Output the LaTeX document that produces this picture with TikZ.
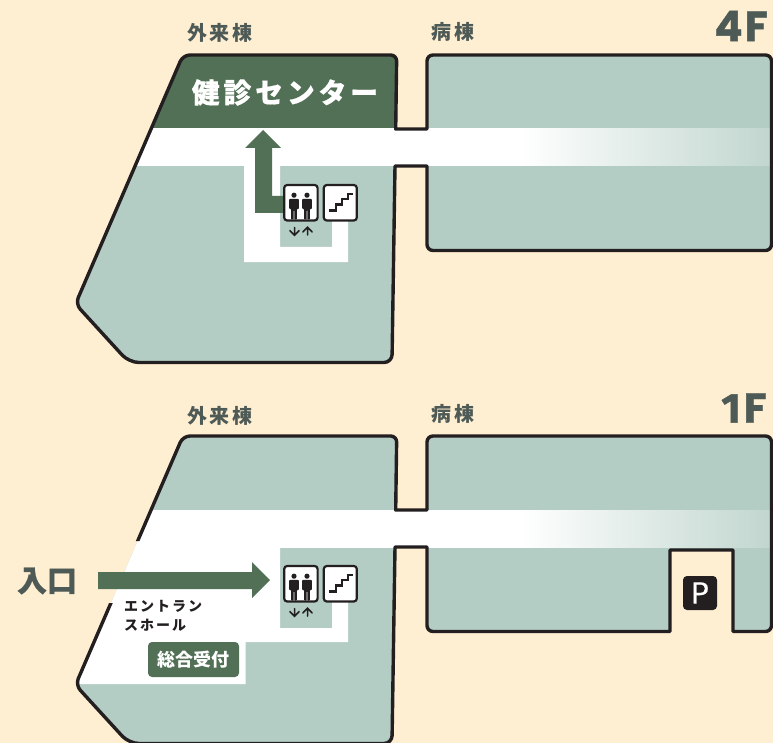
\documentclass[tikz,border=0pt]{standalone}
\usepackage{fontspec}
\setmainfont{Noto Sans CJK JP}
\newfontfamily\jp{Noto Sans CJK JP}
\newfontfamily\jpwide[LetterSpace=14]{Noto Sans CJK JP}
\newfontfamily\jpward[LetterSpace=14]{Noto Sans CJK JP}
\newfontfamily\jpbold[FakeBold=0.6]{Noto Sans CJK JP}
\newfontfamily\jpboldwide[LetterSpace=14,FakeBold=0.6]{Noto Sans CJK JP}
\newfontfamily\latinbig[LetterSpace=5,FakeBold=0.8]{Poppins}
\newfontfamily\latinone[FakeBold=1.2]{Fira Sans}
\definecolor{cream}{HTML}{FFEFD2}
\definecolor{roomc}{HTML}{B3CCC4}
\definecolor{fadeend}{HTML}{C1D6CF}
\definecolor{darkg}{HTML}{527056}
\definecolor{inkc}{HTML}{231F20}
\definecolor{labelc}{HTML}{4E5A56}
\pgfdeclarehorizontalshading{band}{100bp}{color(0bp)=(white);color(56.3bp)=(white);color(75bp)=(fadeend);color(100bp)=(fadeend)}
\tikzset{
  wing/.style={line width=3.4pt,draw=inkc,line join=round},
  iconbox/.style={draw=inkc,line width=2.2pt,fill=white,rounded corners=3pt},
  wardlabel/.style={text=labelc,font=\jpward\bfseries\fontsize{20}{20}\selectfont,inner sep=0pt},
  floorlabel/.style={text=labelc,font=\latinbig\bfseries\fontsize{42}{42}\selectfont,inner sep=0pt},
  updown/.style={draw=inkc,line width=1.5pt,line cap=round},
}
% outline of both wings, from the bridge, clockwise
\newcommand\fourpath{(395.7,129) -- (427,129) [rounded corners=6pt] -- (427,55) -- (771.5,55) -- (771.5,250.5) -- (427,250.5) [sharp corners] -- (427,166) -- (395,166) [rounded corners=8pt] -- (392,362.5) [rounded corners=10pt] -- (129,362.5) [rounded corners=7pt] -- (75.5,304) -- (183,55) [rounded corners=6pt] -- (396.7,55) [sharp corners] -- cycle}
\newcommand\onepath{(395.7,129) -- (427,129) [rounded corners=6pt] -- (427,55) -- (771.5,55) -- (771.5,250.5) [sharp corners] -- (733,250.5) -- (733,169) -- (670,169) -- (670,250.5) [rounded corners=6pt] -- (427,250.5) [sharp corners] -- (427,166) -- (395,166) [rounded corners=8pt] -- (392,362.5) [rounded corners=10pt] -- (129,362.5) [rounded corners=7pt] -- (75.5,304) -- (183,55) [rounded corners=6pt] -- (396.7,55) [sharp corners] -- cycle}
\newcommand\person[1]{%
  \fill[inkc] (#1,195.2) circle (2.6pt);
  \fill[inkc,rounded corners=.8pt] (#1-4.8,198.8) -- (#1+4.8,198.8) -- (#1+4.8,209) -- (#1+2.9,209) -- (#1+2.9,219.5) -- (#1+.3,219.5) -- (#1+.3,210) -- (#1-.3,210) -- (#1-.3,219.5) -- (#1-2.9,219.5) -- (#1-2.9,209) -- (#1-4.8,209) -- cycle;
}
\newcommand\icons{%
  \draw[iconbox] (284.2,185) rectangle (317.6,220.5);
  \draw[iconbox] (323.8,185) rectangle (356.8,220.5);
  \person{294}
  \person{307}
  \draw[inkc,line width=2.5pt,line join=miter] (329,210.5) -- (336,210.5) -- (336,204.5) -- (342,204.5) -- (342,199) -- (348,199) -- (348,194) -- (353,194);
  \draw[updown] (294.5,227.5) -- (294.5,235) (289.8,230.5) -- (294.5,235.2) -- (299.2,230.5);
  \draw[updown] (307.5,235) -- (307.5,227.5) (302.8,232) -- (307.5,227.3) -- (312.2,232);
}
\begin{document}
\begin{tikzpicture}[x=1pt,y=-1pt]
\useasboundingbox (0,0) rectangle (773,743);
\fill[cream] (0,0) rectangle (773,743);

% ---------- 4F ----------
\begin{scope}
  \fill[roomc] \fourpath;
  \begin{scope}
    \clip \fourpath;
    \fill[darkg] (100,50) rectangle (396.7,129);
    \shade[shading=band] (100,129) rectangle (771.5,166);
    \fill[white] (244,165) -- (280,165) -- (280,247) -- (332,247) -- (332,220) -- (348,220) -- (348,262) -- (244,262) -- cycle;
  \end{scope}
  \draw[wing] \fourpath;
  \fill[darkg] (263,130) -- (281,148) -- (272,148) -- (272,196) -- (286,196) -- (286,213) -- (255,213) -- (255,148) -- (245,148) -- cycle;
  \icons
\end{scope}

\node[wardlabel] (out4) at (220,33) {外来棟};
\node[wardlabel] (ward4) at (453,32) {病棟};
\node[floorlabel] (f4) at (741,26) {4F};
\node[text=white,font=\jpboldwide\bfseries\fontsize{27.8}{27.8}\selectfont,inner sep=0pt] (kenshin) at (285,92.5) {健診センター};

% ---------- 1F ----------
\begin{scope}[yshift=-381pt]
  \fill[roomc] \onepath;
  \begin{scope}
    \clip \onepath;
    \shade[shading=band] (100,129) rectangle (771.5,166);
    \fill[white] (100,165) -- (280,165) -- (280,247) -- (332,247) -- (332,220) -- (348,220) -- (348,261) -- (245.5,261) -- (245.5,303) -- (70,303) -- cycle;
  \end{scope}
  \begin{scope}
    \clip (0,0) rectangle (773,160) (0,222) rectangle (773,365) (200,160) rectangle (773,222);
    \draw[wing] \onepath;
  \end{scope}
  \icons
\end{scope}

\fill[darkg] (98,572) -- (252,572) -- (252,562) -- (270,580) -- (252,598) -- (252,589) -- (98,589) -- cycle;

\node[wardlabel] (out1) at (220,416) {外来棟};
\node[wardlabel] (ward1) at (453,414) {病棟};
\node[floorlabel] (f1) at (744,408) {{\latinone\bfseries 1}\hspace{3pt}F};
\node[text=labelc,font=\jpbold\bfseries\fontsize{30}{30}\selectfont,inner sep=0pt] (entry) at (47,581) {入口};
\node[text=inkc,font=\jpwide\bfseries\fontsize{14}{14}\selectfont,inner sep=0pt,anchor=west] (hall1) at (124,606) {エントラン};
\node[text=inkc,font=\jpwide\bfseries\fontsize{14}{14}\selectfont,inner sep=0pt,anchor=west] (hall2) at (124,625) {スホール};
\node[fill=darkg,rounded corners=4pt,minimum width=91pt,minimum height=35pt,inner sep=0pt,text=white,font=\jp\bfseries\fontsize{18}{18}\selectfont] (desk) at (193.5,659.5) {総合受付};
\node[fill=inkc,rounded corners=4pt,minimum width=34pt,minimum height=34pt,inner sep=0pt,text=white,font=\jpbold\fontsize{29}{29}\selectfont] (park) at (700,593) {P};
\end{tikzpicture}
\end{document}
